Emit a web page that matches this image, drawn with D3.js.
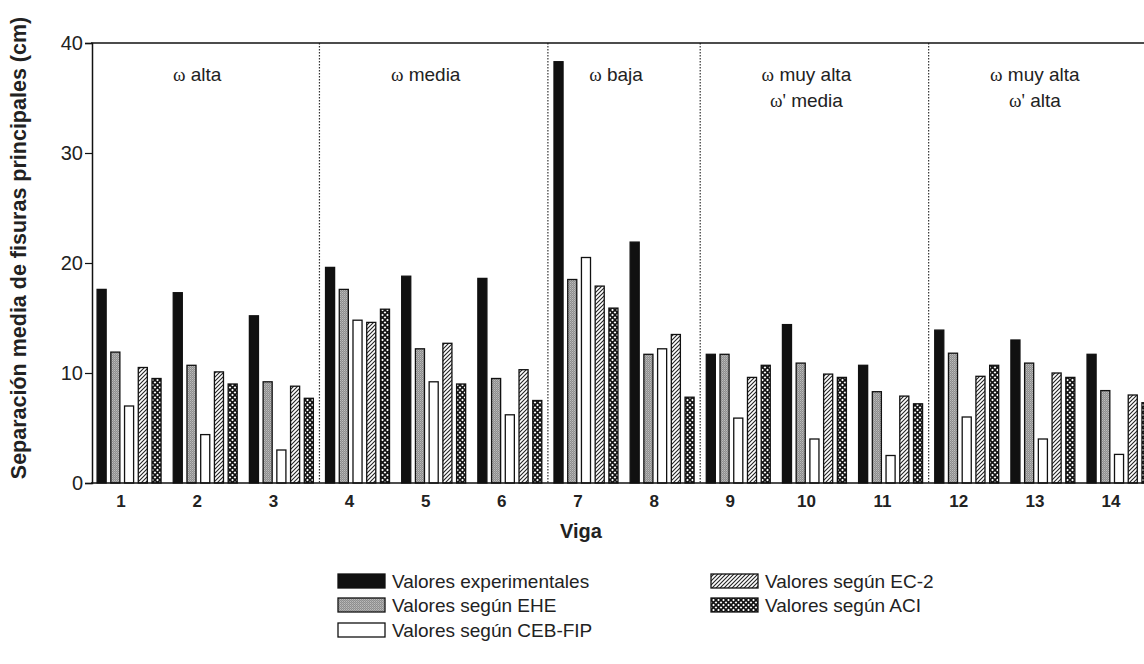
<!DOCTYPE html>
<html>
<head>
<meta charset="utf-8">
<script src="https://cdn.jsdelivr.net/npm/d3@7"></script>
<style>
body { margin: 0; background: #fff; }
svg { display: block; font-family: Arial, "Liberation Sans", sans-serif; }
</style>
</head>
<body>
<svg></svg>
<script>
// datos
var vigas = [1, 2, 3, 4, 5, 6, 7, 8, 9, 10, 11, 12, 13, 14];
var experimentales = [17.6, 17.3, 15.2, 19.6, 18.8, 18.6, 38.3, 21.9, 11.7, 14.4, 10.7, 13.9, 13.0, 11.7];
var ehe = [11.9, 10.7, 9.2, 17.6, 12.2, 9.5, 18.5, 11.7, 11.7, 10.9, 8.3, 11.8, 10.9, 8.4];
var cebfip = [7.0, 4.4, 3.0, 14.8, 9.2, 6.2, 20.5, 12.2, 5.9, 4.0, 2.5, 6.0, 4.0, 2.6];
var ec2 = [10.5, 10.1, 8.8, 14.6, 12.7, 10.3, 17.9, 13.5, 9.6, 9.9, 7.9, 9.7, 10.0, 8.0];
var aci = [9.5, 9.0, 7.7, 15.8, 9.0, 7.5, 15.9, 7.8, 10.7, 9.6, 7.2, 10.7, 9.6, 7.3];
var seriesNames = ["Valores experimentales", "Valores según EHE", "Valores según CEB-FIP", "Valores según EC-2", "Valores según ACI"];
var yTicks = [0, 10, 20, 30, 40];
var separadores = [3, 6, 8, 11]; // linea punteada despues de estas vigas
var zonas = [
  {viga: 2, lines: [["ω", " alta"]]},
  {viga: 5, lines: [["ω", " media"]]},
  {viga: 7.5, lines: [["ω", " baja"]]},
  {viga: 10, lines: [["ω", " muy alta"], ["ω'", " media"]]},
  {viga: 13, lines: [["ω", " muy alta"], ["ω'", " alta"]]}
];

var allSeries = [experimentales, ehe, cebfip, ec2, aci];
var fills = ["#111", "url(#ehe)", "#fff", "url(#ec2)", "url(#aci)"];

var svgWidth = 1144, svgHeight = 664;
var svg = d3.select("svg")
    .attr("width", svgWidth)
    .attr("height", svgHeight);

// patrones
var defs = svg.append("defs");
var pEhe = defs.append("pattern").attr("id", "ehe")
    .attr("patternUnits", "userSpaceOnUse").attr("width", 2).attr("height", 2);
pEhe.append("rect").attr("width", 2).attr("height", 2).attr("fill", "#8e8e8e");
pEhe.append("rect").attr("width", 1).attr("height", 1).attr("fill", "#bcbcbc");
pEhe.append("rect").attr("x", 1).attr("y", 1).attr("width", 1).attr("height", 1).attr("fill", "#a6a6a6");

var pEc2 = defs.append("pattern").attr("id", "ec2")
    .attr("patternUnits", "userSpaceOnUse").attr("width", 4).attr("height", 4);
pEc2.append("rect").attr("width", 4).attr("height", 4).attr("fill", "#fff");
pEc2.append("path").attr("d", "M-1,1 L1,-1 M0,4 L4,0 M3,5 L5,3")
    .attr("stroke", "#222").attr("stroke-width", 1.1);

var pAci = defs.append("pattern").attr("id", "aci")
    .attr("patternUnits", "userSpaceOnUse").attr("width", 5).attr("height", 5);
pAci.append("rect").attr("width", 5).attr("height", 5).attr("fill", "#fff");
pAci.append("path").attr("d", "M0,0 L5,5 M5,0 L0,5")
    .attr("stroke", "#111").attr("stroke-width", 1.6);

var x0 = 91, step = 76.15;
var x = d3.scaleBand()
    .domain(vigas)
    .range([x0, x0 + vigas.length * step])
    .paddingInner(0.16)
    .paddingOuter(0.08);
var xs = d3.scaleBand()
    .domain(d3.range(allSeries.length))
    .range([0, x.bandwidth()])
    .paddingInner(0.34);
var y = d3.scaleLinear()
    .domain([0, 40])
    .range([483, 43]);

// barras
allSeries.forEach(function(vals, s) {
  svg.append("g").selectAll("rect")
    .data(vals)
    .enter().append("rect")
    .attr("x", function(d, i) { return x(vigas[i]) + xs(s); })
    .attr("y", function(d) { return y(d); })
    .attr("width", xs.bandwidth())
    .attr("height", function(d) { return y(0) - y(d); })
    .attr("fill", fills[s])
    .attr("stroke", "#111")
    .attr("stroke-width", 1.3);
});

// separadores punteados
svg.append("g").selectAll("line")
  .data(separadores)
  .enter().append("line")
  .attr("x1", function(d) { return (x(d) + x.bandwidth() + x(d + 1)) / 2; })
  .attr("x2", function(d) { return (x(d) + x.bandwidth() + x(d + 1)) / 2; })
  .attr("y1", y(40))
  .attr("y2", y(0))
  .attr("stroke", "#333")
  .attr("stroke-width", 1.2)
  .attr("stroke-dasharray", "1.5,1.5");

// borde superior y linea base
svg.append("line")
  .attr("x1", x0).attr("x2", svgWidth)
  .attr("y1", y(40)).attr("y2", y(40))
  .attr("stroke", "#111").attr("stroke-width", 1.5);
svg.append("line")
  .attr("x1", x0).attr("x2", svgWidth)
  .attr("y1", y(0)).attr("y2", y(0))
  .attr("stroke", "#111").attr("stroke-width", 1.5);

// eje y
var y_axis = d3.axisLeft(y).tickValues(yTicks).tickSize(7).tickPadding(2);
var gy = svg.append("g")
  .attr("transform", "translate(" + (x0 + 1) + ",0)")
  .call(y_axis);
gy.select(".domain").attr("stroke", "#111").attr("stroke-width", 1.5);
gy.selectAll(".tick line").attr("stroke", "#111").attr("stroke-width", 1.2);
gy.selectAll("text").attr("font-size", 20).attr("fill", "#222")
  .attr("font-family", "Arial, 'Liberation Sans', sans-serif");

// eje x (solo etiquetas)
var x_axis = d3.axisBottom(x).tickSize(0).tickPadding(12);
var gx = svg.append("g")
  .attr("transform", "translate(0," + y(0) + ")")
  .call(x_axis);
gx.select(".domain").remove();
gx.selectAll("text").attr("font-size", 17).attr("font-weight", "bold")
  .attr("fill", "#222").attr("dx", -8)
  .attr("font-family", "Arial, 'Liberation Sans', sans-serif");

// titulos de ejes
svg.append("text")
  .attr("x", 581).attr("y", 538)
  .attr("text-anchor", "middle")
  .attr("font-size", 20).attr("font-weight", "bold").attr("fill", "#222")
  .text("Viga");
svg.append("text")
  .attr("transform", "translate(26,248) rotate(-90)")
  .attr("text-anchor", "middle")
  .attr("font-size", 21.5).attr("font-weight", "bold").attr("fill", "#222")
  .text("Separación media de fisuras principales (cm)");

// etiquetas de zonas
var xc = function(v) {
  var a = Math.floor(v), b = Math.ceil(v);
  return (x(a) + x(b)) / 2 + x.bandwidth() / 2 - 8;
};
zonas.forEach(function(z) {
  z.lines.forEach(function(ln, k) {
    var t = svg.append("text")
      .attr("x", xc(z.viga))
      .attr("y", 81 + k * 26)
      .attr("text-anchor", "middle")
      .attr("font-size", 19).attr("fill", "#222");
    t.append("tspan").attr("font-family", "'Liberation Serif', 'DejaVu Serif', serif").text(ln[0]);
    t.append("tspan").text(ln[1]);
  });
});

// leyenda
var legPos = [[338, 581], [338, 605], [338, 630], [711, 581], [711, 605]];
var leg = svg.append("g").selectAll("g")
  .data(seriesNames)
  .enter().append("g")
  .attr("transform", function(d, i) { return "translate(" + legPos[i][0] + "," + legPos[i][1] + ")"; });
leg.append("rect")
  .attr("x", 0).attr("y", -7)
  .attr("width", 47).attr("height", 14)
  .attr("fill", function(d, i) { return fills[i]; })
  .attr("stroke", "#111").attr("stroke-width", 1.3);
leg.append("text")
  .attr("x", 54).attr("y", 7)
  .attr("font-size", 19).attr("fill", "#222")
  .text(function(d) { return d; });
</script>
</body>
</html>
